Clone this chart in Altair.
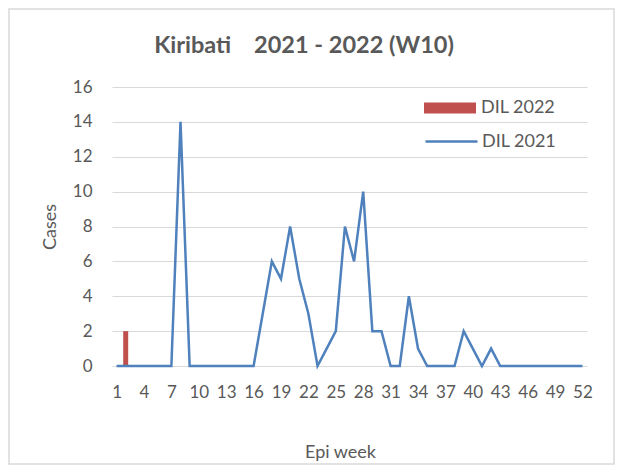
import altair as alt
import pandas as pd

# ---- data ----
weeks_2021 = list(range(1, 53))
dil_2021 = ([0] * 7 + [14] + [0] * 8 +
            [3, 6, 5, 8, 5, 3, 0, 1, 2, 8, 6, 10, 2, 2, 0, 0, 4, 1] +
            [0] * 4 + [2, 1, 0, 1] + [0] * 10)
weeks_2022 = list(range(1, 11))
dil_2022 = [0, 2, 0, 0, 0, 0, 0, 0, 0, 0]
x_ticks = list(range(1, 53, 3))
y_ticks = list(range(0, 17, 2))
title_text = "Kiribati\u00a0\u00a0\u00a0 2021 - 2022 (W10)"

TXT = "#595959"
GRID = "#D9D9D9"
RED = "#C0504D"
BLUE = "#4F81BD"
FONT = "Lato"

W, H = 475, 279
PL, PT = 104, 79
PR = 607 - PL - W
PB = 457 - PT - H

df21 = pd.DataFrame({"week": weeks_2021, "cases": dil_2021, "series": "DIL 2021"})
df22 = pd.DataFrame({"week": weeks_2022, "cases": dil_2022, "series": "DIL 2022"})

x_enc = alt.X("week:Q",
              scale=alt.Scale(domain=[0.5, 52.5], nice=False, zero=False, padding=0),
              axis=alt.Axis(values=x_ticks, grid=False, ticks=False, domain=False,
                            labelOverlap=False,
                            labelFontSize=17, labelColor=TXT, labelFont=FONT,
                            labelPadding=18, title="Epi week", titleFont=FONT,
                            titleFontSize=18, titleColor=TXT, titleFontWeight="normal",
                            titleX=228, titleY=86, titleBaseline="middle"))
y_enc = alt.Y("cases:Q",
              scale=alt.Scale(domain=[0, 16], nice=False, zero=True, padding=0),
              axis=alt.Axis(values=y_ticks, grid=True, gridColor=GRID, gridWidth=1,
                            ticks=False, domain=False, labelFontSize=17,
                            labelOverlap=False,
                            labelColor=TXT, labelFont=FONT, labelPadding=20,
                            title="Cases", titleFont=FONT, titleFontSize=18,
                            titleColor=TXT, titleFontWeight="normal",
                            titleX=-62, titleY=H / 2, titleBaseline="middle"))

bars = alt.Chart(df22).mark_bar(size=5).encode(
    x=x_enc, y=y_enc,
    fill=alt.Fill("series:N",
                  scale=alt.Scale(domain=["DIL 2022"], range=[RED]),
                  legend=alt.Legend(title=None, orient="none", legendX=312, legendY=-5,
                                    symbolType="M-1,-0.21H1V0.21H-1Z",
                                    symbolSize=2704, symbolStrokeWidth=0,
                                    labelFontSize=18, labelColor=TXT, labelFont=FONT,
                                    labelOffset=5, padding=0)),
)

line = alt.Chart(df21).mark_line(strokeWidth=2.5).encode(
    x=x_enc, y=y_enc,
    stroke=alt.Stroke("series:N",
                      scale=alt.Scale(domain=["DIL 2021"], range=[BLUE]),
                      legend=alt.Legend(title=None, orient="none", legendX=312, legendY=27,
                                        symbolType="stroke", symbolSize=2704,
                                        symbolStrokeWidth=2.5,
                                        labelFontSize=18, labelColor=TXT, labelFont=FONT,
                                        labelOffset=3, padding=0)),
)

border = alt.Chart(pd.DataFrame({"b": [0]})).mark_rect(
    fill=None, stroke=GRID, strokeWidth=1.5, clip=False
).encode(
    x=alt.value(-PL + 1), x2=alt.value(W + PR - 1),
    y=alt.value(-PT + 1), y2=alt.value(H + PB - 1),
)

title = alt.Chart(pd.DataFrame({"t": [title_text]})).mark_text(
    font=FONT, fontSize=23.5, fontWeight="bold", color=TXT,
    align="center", baseline="middle", clip=False
).encode(text="t:N", x=alt.value(192), y=alt.value(-41))

chart = alt.layer(bars, line, border, title).resolve_scale(
    fill="independent", stroke="independent"
).properties(
    width=W, height=H,
    autosize=alt.AutoSizeParams(type="none"),
    padding={"left": PL, "top": PT, "right": PR, "bottom": PB},
).configure_view(stroke=None)

chart.save("out.html", embed_options={"renderer": "svg", "actions": False})
